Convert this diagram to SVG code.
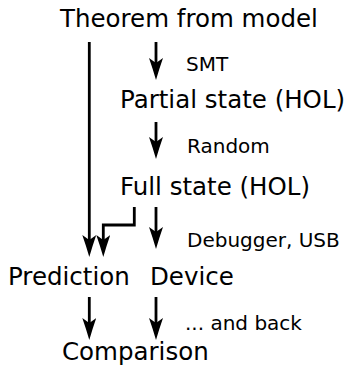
<svg xmlns="http://www.w3.org/2000/svg" width="363" height="376" viewBox="0 0 363 376">
  <style>
    .node { font-family: "DejaVu Sans", "Liberation Sans", sans-serif; font-size: 24.5px; fill: #000; }
    .label { font-family: "DejaVu Sans", "Liberation Sans", sans-serif; font-size: 20px; fill: #000; }
    .edge { fill: none; stroke: #000; stroke-width: 2.8; stroke-linejoin: miter; marker-end: url(#head); }
  </style>
  <defs>
    <!-- stealth-style arrowhead, tip 16px past the line end -->
    <marker id="head" viewBox="0 0 22 14" markerWidth="22" markerHeight="14" markerUnits="userSpaceOnUse" refX="6" refY="7" orient="auto">
      <path d="M22,7 Q10,3.5 0,0 L5,7 L0,14 Q10,10.5 22,7 Z" fill="#000"/>
    </marker>
  </defs>
  <rect width="363" height="376" fill="#fff"/>

  <g id="connectors">
    <path class="edge" d="M89.3,42 V241"/>
    <path class="edge" d="M134.3,207 V225 H103.3 V241"/>
    <path class="edge" d="M156,42 V64"/>
    <path class="edge" d="M156,122 V143"/>
    <path class="edge" d="M156,207 V233"/>
    <path class="edge" d="M89.3,297 V324"/>
    <path class="edge" d="M156,297 V324"/>
    <text class="label" x="186" y="71">SMT</text>
    <text class="label" x="187" y="153">Random</text>
    <text class="label" x="187" y="247">Debugger, USB</text>
    <text class="label" x="185" y="330">... and back</text>
  </g>

  <g id="theorem"><text class="node" x="60" y="27">Theorem from model</text></g>
  <g id="partial"><text class="node" x="120" y="108">Partial state (HOL)</text></g>
  <g id="full"><text class="node" x="120" y="195">Full state (HOL)</text></g>
  <g id="prediction"><text class="node" x="8" y="285">Prediction</text></g>
  <g id="device"><text class="node" x="150" y="285">Device</text></g>
  <g id="comparison"><text class="node" x="62" y="360">Comparison</text></g>
</svg>
